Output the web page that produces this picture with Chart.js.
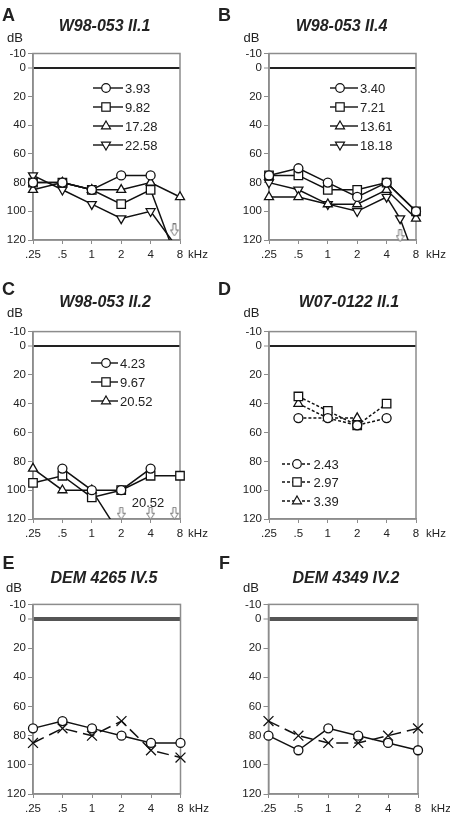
<!DOCTYPE html>
<html>
<head>
<meta charset="utf-8">
<script src="https://cdn.jsdelivr.net/npm/chart.js@4.4.0/dist/chart.umd.min.js"></script>
<style>
body { margin: 0; background: #fff; }
#page { position: relative; width: 450px; height: 819px; overflow: hidden; font-family: "Liberation Sans", Arial, sans-serif; color: #222; }
canvas { position: absolute; }
.c { position: absolute; white-space: nowrap; line-height: 1; transform: translate(-50%, -50%); }
.l { position: absolute; white-space: nowrap; line-height: 1; transform: translateY(-50%); font-size: 13px; }
svg { position: absolute; }
</style>
</head>
<body>
<div id="page"></div>
<script>
// shared axes
const freqs = [0.25, 0.5, 1, 2, 4, 8];
const freqsB = [0.25, 0.5, 1, 2, 4, 5.5, 8];   // B, 18.18 has an extra point near 6 kHz
const xTickLabels = ['.25', '.5', '1', '2', '4', '8'];
const yTicks = [-10, 0, 20, 40, 60, 80, 100, 120];

// A  W98-053 II.1
const namesA = ['3.93', '9.82', '17.28', '22.58'];
const a1 = [80, 80, 85, 75, 75, null];
const a2 = [80, 80, 85, 95, 85, 140];
const a3 = [85, 80, 85, 85, 80, 90];
const a4 = [75, 85, 95, 105, 100, 128];
const arrowAx = [7];
const arrowAy = [113];

// B  W98-053 II.4
const namesB = ['3.40', '7.21', '13.61', '18.18'];
const b1 = [75, 70, 80, 90, 80, 100];
const b2 = [75, 75, 85, 85, 80, 100];
const b3 = [90, 90, 95, 95, 85, 105];
const b4 = [80, 85, 95, 100, 90, 105, 135];
const arrowBx = [5.5];
const arrowBy = [117];

// C  W98-053 II.2
const namesC = ['4.23', '9.67', '20.52'];
const c1 = [null, 85, 100, 100, 85, null];
const c2 = [95, 90, 105, 100, 90, 90];
const c3 = [85, 100, 100, 132, null, null];
const arrowCx = [2, 4, 7];
const arrowCy = [116, 116, 116];

// D  W07-0122 II.1
const namesD = ['2.43', '2.97', '3.39'];
const d1 = [null, 50, 50, 55, 50, null];
const d2 = [null, 35, 45, 55, 40, null];
const d3 = [null, 40, 50, 50, null, null];

// E  DEM 4265 IV.5
const e1 = [75, 70, 75, 80, 85, 85];
const e2 = [85, 75, 80, 70, 90, 95];

// F  DEM 4349 IV.2
const f1 = [80, 90, 75, 80, 85, 90];
const f2 = [70, 80, 85, 85, 80, 75];

const FONT = '"Liberation Sans", Arial, sans-serif';
const INK = '#111';
const FRAME = '#8c8c8c';
const page = document.getElementById('page');

const MARK = {
  circle: { style: 'circle', r: 4.5, rot: 0 },
  square: { style: 'rect', r: 6, rot: 0 },
  up: { style: 'triangle', r: 5.2, rot: 0 },
  down: { style: 'triangle', r: 5.2, rot: 180 },
  cross: { style: 'crossRot', r: 7, rot: 0 }
};

function pts(xs, ys) {
  return xs.map((x, i) => ({ x: x, y: ys[i] }));
}

function series(xs, ys, mark, dash) {
  const m = MARK[mark];
  return {
    data: pts(xs, ys),
    borderColor: INK,
    borderWidth: 1.5,
    borderDash: dash || [],
    pointStyle: m.style,
    pointRadius: m.r,
    pointRotation: m.rot,
    pointBackgroundColor: '#fff',
    pointBorderColor: INK,
    pointBorderWidth: 1.3,
    spanGaps: true,
    tension: 0,
    clip: { left: 10, top: 10, right: 10, bottom: 0 }
  };
}

function makeArrow() {
  const c = document.createElement('canvas');
  c.width = 9; c.height = 13;
  const g = c.getContext('2d');
  g.strokeStyle = '#777'; g.fillStyle = '#fff'; g.lineWidth = 1;
  g.beginPath();
  g.moveTo(3, 0.5); g.lineTo(6, 0.5); g.lineTo(6, 6.5); g.lineTo(8.5, 6.5);
  g.lineTo(4.5, 12.5); g.lineTo(0.5, 6.5); g.lineTo(3, 6.5); g.closePath();
  g.fill(); g.stroke();
  return c;
}
const arrowImg = makeArrow();

function arrows(xs, ys) {
  return { data: pts(xs, ys), showLine: false, pointStyle: arrowImg, pointRadius: 6, clip: false };
}

const framePlugin = {
  id: 'frame',
  beforeDatasetsDraw(chart) {
    const a = chart.chartArea, ctx = chart.ctx;
    ctx.save();
    ctx.strokeStyle = FRAME;
    ctx.lineWidth = 1.5;
    ctx.strokeRect(a.left, a.top, a.right - a.left, a.bottom - a.top);
    ctx.restore();
  }
};

function makeChart(p) {
  const cv = document.createElement('canvas');
  cv.width = p.w; cv.height = p.h;
  cv.style.left = p.x + 'px'; cv.style.top = p.y + 'px';
  page.appendChild(cv);
  const YW = 30, XH = 24;
  new Chart(cv, {
    type: 'line',
    data: { datasets: p.datasets },
    options: {
      responsive: false,
      animation: false,
      devicePixelRatio: 1,
      layout: { padding: {
        left: p.area[0] - p.x - YW,
        top: p.area[1] - p.y,
        right: p.x + p.w - p.area[2],
        bottom: p.y + p.h - p.area[3] - XH
      } },
      plugins: { legend: { display: false }, tooltip: { enabled: false } },
      scales: {
        x: {
          type: 'logarithmic', min: 0.25, max: 8,
          afterBuildTicks: s => { s.ticks = freqs.map(v => ({ value: v })); },
          afterFit: s => { s.height = XH; },
          ticks: { autoSkip: false, maxRotation: 0, padding: 4, color: '#222',
                   font: { family: FONT, size: 11.5 }, callback: (v, i) => xTickLabels[i] },
          grid: { drawOnChartArea: false, tickLength: 4, tickColor: FRAME, tickWidth: 1 },
          border: { display: true, color: FRAME, width: 1.5 }
        },
        y: {
          type: 'linear', reverse: true, min: -10, max: 120,
          afterBuildTicks: s => { s.ticks = yTicks.map(v => ({ value: v })); },
          afterFit: s => { s.width = YW; },
          ticks: { padding: 2, color: '#222', font: { family: FONT, size: 11.5 } },
          grid: {
            color: c => (c.tick && c.tick.value === 0) ? p.zeroColor : 'rgba(0,0,0,0)',
            lineWidth: c => (c.tick && c.tick.value === 0) ? p.zeroWidth : 1,
            tickColor: FRAME, tickLength: 5, tickWidth: 1
          },
          border: { display: true, color: FRAME, width: 1.5 }
        }
      }
    },
    plugins: [framePlugin]
  });
}

makeChart({ x: 0, y: 0, w: 225, h: 270, area: [33, 53.5, 180, 240], zeroColor: '#222', zeroWidth: 2,
  datasets: [series(freqs, a1, 'circle'), series(freqs, a2, 'square'), series(freqs, a3, 'up'),
             series(freqs, a4, 'down'), arrows(arrowAx, arrowAy)] });
makeChart({ x: 225, y: 0, w: 225, h: 270, area: [269, 53.5, 416, 240], zeroColor: '#222', zeroWidth: 2,
  datasets: [series(freqs, b1, 'circle'), series(freqs, b2, 'square'), series(freqs, b3, 'up'),
             series(freqsB, b4, 'down'), arrows(arrowBx, arrowBy)] });
makeChart({ x: 0, y: 270, w: 225, h: 275, area: [33, 331.6, 180, 519], zeroColor: '#222', zeroWidth: 2,
  datasets: [series(freqs, c1, 'circle'), series(freqs, c2, 'square'), series(freqs, c3, 'up'),
             arrows(arrowCx, arrowCy)] });
makeChart({ x: 225, y: 270, w: 225, h: 275, area: [269, 331.6, 416, 519], zeroColor: '#222', zeroWidth: 2,
  datasets: [series(freqs, d1, 'circle', [3, 2]), series(freqs, d2, 'square', [3, 2]),
             series(freqs, d3, 'up', [3, 2])] });
makeChart({ x: 0, y: 545, w: 225, h: 274, area: [33, 604.4, 180.5, 794], zeroColor: '#555', zeroWidth: 4,
  datasets: [series(freqs, e1, 'circle'), series(freqs, e2, 'cross', [12, 6])] });
makeChart({ x: 225, y: 545, w: 225, h: 274, area: [268.5, 604.4, 418, 794], zeroColor: '#555', zeroWidth: 4,
  datasets: [series(freqs, f1, 'circle'), series(freqs, f2, 'cross', [12, 6])] });

// text
function text(str, x, y, size, weight, style) {
  const d = document.createElement('div');
  d.className = 'c';
  d.textContent = str;
  d.style.left = x + 'px'; d.style.top = y + 'px';
  d.style.fontSize = size + 'px';
  if (weight) d.style.fontWeight = weight;
  if (style) d.style.fontStyle = style;
  page.appendChild(d);
}
[['A', 8.5, 15], ['B', 224.5, 15], ['C', 8.5, 289], ['D', 224.5, 289], ['E', 8.5, 563], ['F', 224.5, 563]]
  .forEach(t => text(t[0], t[1], t[2], 18, 'bold'));
[['W98-053 II.1', 104.5, 26], ['W98-053 II.4', 341.5, 26], ['W98-053 II.2', 105, 302],
 ['W07-0122 II.1', 349, 302], ['DEM 4265 IV.5', 104, 577.5], ['DEM 4349 IV.2', 346, 577.5]]
  .forEach(t => text(t[0], t[1], t[2], 16, 'bold', 'italic'));
[[15, 37], [251.5, 37], [15, 312], [251.5, 312], [14, 587], [251, 587]]
  .forEach(t => text('dB', t[0], t[1], 13));
[[198, 254.5], [436, 254.5], [198, 533.5], [436, 533.5], [199, 808.5], [441, 808.5]]
  .forEach(t => text('kHz', t[0], t[1], 11.5));
text('20.52', 148, 502, 13);

// legends
function icon(mark, w, mx, dashed) {
  const ns = 'http://www.w3.org/2000/svg';
  const s = document.createElementNS(ns, 'svg');
  s.setAttribute('width', w); s.setAttribute('height', 14);
  let shape = '';
  if (mark === 'circle') shape = `<circle cx="${mx}" cy="7" r="4.3" />`;
  if (mark === 'square') shape = `<rect x="${mx - 4.2}" y="2.8" width="8.4" height="8.4" />`;
  if (mark === 'up') shape = `<polygon points="${mx},2 ${mx + 4.5},9.8 ${mx - 4.5},9.8" />`;
  if (mark === 'down') shape = `<polygon points="${mx},12 ${mx + 4.5},4.2 ${mx - 4.5},4.2" />`;
  s.innerHTML = `<line x1="0" y1="7" x2="${w}" y2="7" stroke="${INK}" stroke-width="1.4" ${dashed ? 'stroke-dasharray="3,2"' : ''}/>` +
    `<g fill="#fff" stroke="${INK}" stroke-width="1.2">${shape}</g>`;
  return s;
}
function legend(names, marks, rows, lineLeft, w, mx, textLeft, dashed) {
  names.forEach((n, i) => {
    const s = icon(marks[i], w, mx, dashed);
    s.style.left = lineLeft + 'px'; s.style.top = (rows[i] - 7) + 'px';
    page.appendChild(s);
    const d = document.createElement('div');
    d.className = 'l';
    d.textContent = n;
    d.style.left = textLeft + 'px'; d.style.top = rows[i] + 'px';
    page.appendChild(d);
  });
}
const marks4 = ['circle', 'square', 'up', 'down'];
legend(namesA, marks4, [88.3, 107.3, 126, 145], 93, 30, 13, 125);
legend(namesB, marks4, [88.3, 107.3, 126, 145], 330, 28, 10, 360);
legend(namesC, marks4, [363.3, 382.3, 401], 91, 27, 15, 120);
legend(namesD, marks4, [464.3, 482.3, 500.7], 282, 30, 15, 313.5, true);
</script>
</body>
</html>
